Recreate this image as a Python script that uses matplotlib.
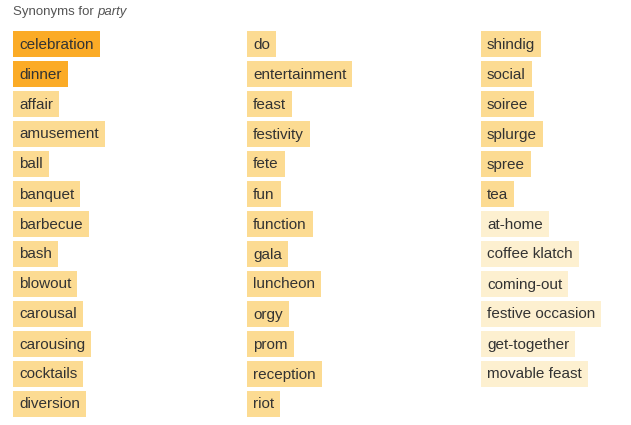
import matplotlib
matplotlib.use('Agg')
import matplotlib.pyplot as plt
from matplotlib.patches import Rectangle

plt.rcParams['font.family'] = ['Liberation Sans', 'DejaVu Sans']

col1 = ['celebration', 'dinner', 'affair', 'amusement', 'ball', 'banquet', 'barbecue',
        'bash', 'blowout', 'carousal', 'carousing', 'cocktails', 'diversion']
col2 = ['do', 'entertainment', 'feast', 'festivity', 'fete', 'fun', 'function', 'gala',
        'luncheon', 'orgy', 'prom', 'reception', 'riot']
col3 = ['shindig', 'social', 'soiree', 'splurge', 'spree', 'tea', 'at-home', 'coffee klatch',
        'coming-out', 'festive occasion', 'get-together', 'movable feast']
# relevance level: 2 = strong, 1 = medium, 0 = weak
level1 = [2, 2] + [1] * 11
level2 = [1] * 13
level3 = [1] * 6 + [0] * 6

colors = {2: '#fbab26', 1: '#fcdb92', 0: '#fdf0d0'}

W, H = 631, 425
fig = plt.figure(figsize=(W / 100, H / 100), dpi=100)
ax = fig.add_axes([0, 0, 1, 1])
ax.set_xlim(0, W)
ax.set_ylim(H, 0)
ax.axis('off')

ax.text(13, 12, 'Synonyms for ', fontsize=9.5, color='#555555', va='center', ha='left')
t0 = ax.text(13, 12, 'Synonyms for ', fontsize=9.5, color='none', va='center')
fig.canvas.draw()
r = fig.canvas.get_renderer()
w0 = t0.get_window_extent(r).width
ax.text(13 + w0, 12, 'party', fontsize=9.5, color='#555555', va='center', style='italic')

xs = [13, 247, 481]
for x0, words, lv in zip(xs, [col1, col2, col3], [level1, level2, level3]):
    for i, (w, l) in enumerate(zip(words, lv)):
        y = 31 + 30 * i
        t = ax.text(x0 + 6, y + 13.5, w, fontsize=11, color='#333333', va='center', ha='left', zorder=3)
        tw = t.get_window_extent(r).width
        ax.add_patch(Rectangle((x0, y), tw + 12, 26, color=colors[l], lw=0, zorder=2))

fig.savefig('out.png', dpi=100)
